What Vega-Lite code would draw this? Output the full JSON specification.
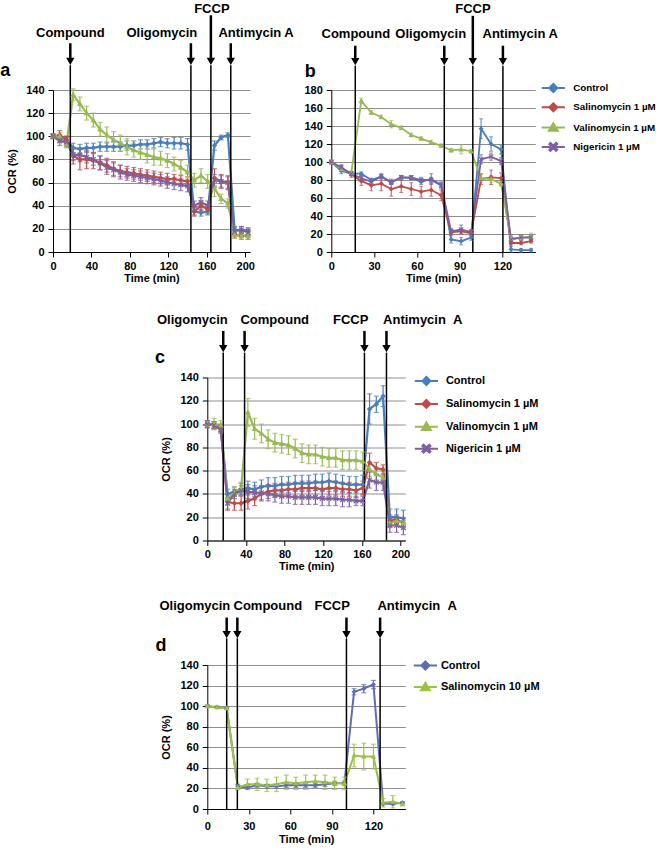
{
"$schema":"https://vega.github.io/schema/vega-lite/v6.json",
"background":"white",
"padding":{"left":0,"top":2,"right":0,"bottom":5},
"datasets":{
"annA":[{"event":"Compound","t":18,"lt":18,"ly":189,"top":180.4},{"event":"Oligomycin","t":143.5,"lt":113.3,"ly":189,"top":180.4},{"event":"FCCP","t":164.3,"lt":165.3,"ly":210.4,"top":204.6},{"event":"Antimycin A","t":185,"lt":211.3,"ly":189,"top":180.4}],
"annB":[{"event":"Compound","t":16.8,"lt":17.2,"ly":242.5,"top":229.2},{"event":"Oligomycin","t":79.2,"lt":69.7,"ly":242.5,"top":229.2},{"event":"FCCP","t":99.2,"lt":99.3,"ly":269.8,"top":262.4},{"event":"Antimycin A","t":120.3,"lt":132.4,"ly":242.5,"top":229.2}],
"annC":[{"event":"Oligomycin","t":16.5,"lt":-15.5,"ly":189.7,"top":180},{"event":"Compound","t":38.6,"lt":69.8,"ly":189.7,"top":180},{"event":"FCCP","t":162.7,"lt":148.4,"ly":189.7,"top":180},{"event":"Antimycin\u00a0\u00a0A","t":185.5,"lt":223.1,"ly":189.7,"top":180}],
"annD":[{"event":"Oligomycin","t":14,"lt":-9,"ly":197,"top":186.1},{"event":"Compound","t":21.7,"lt":43.7,"ly":197,"top":186.1},{"event":"FCCP","t":100.5,"lt":90.2,"ly":197,"top":186.1},{"event":"Antimycin\u00a0\u00a0A","t":124.8,"lt":151.6,"ly":197,"top":186.1}],
"a":[
{"t":0,"s":"Control","v":100,"e":2},{"t":7,"s":"Control","v":98,"e":3},{"t":14,"s":"Control","v":97,"e":3},{"t":21,"s":"Control","v":90,"e":4},{"t":28,"s":"Control","v":89,"e":4},{"t":35,"s":"Control","v":90,"e":4},{"t":42,"s":"Control","v":90,"e":4},{"t":49,"s":"Control","v":91,"e":4},{"t":56,"s":"Control","v":91,"e":4},{"t":63,"s":"Control","v":91,"e":4},{"t":70,"s":"Control","v":91,"e":4},{"t":77,"s":"Control","v":92,"e":4},{"t":84,"s":"Control","v":92,"e":4},{"t":91,"s":"Control","v":93,"e":4},{"t":98,"s":"Control","v":93,"e":4},{"t":105,"s":"Control","v":94,"e":4},{"t":112,"s":"Control","v":95,"e":4},{"t":119,"s":"Control","v":94,"e":4},{"t":126,"s":"Control","v":94,"e":5},{"t":133,"s":"Control","v":94,"e":5},{"t":140,"s":"Control","v":93,"e":5},{"t":147,"s":"Control","v":35,"e":3},{"t":154,"s":"Control","v":34,"e":3},{"t":161,"s":"Control","v":35,"e":3},{"t":168,"s":"Control","v":92,"e":4},{"t":175,"s":"Control","v":99,"e":2},{"t":182,"s":"Control","v":101,"e":2},{"t":189,"s":"Control","v":19,"e":3},{"t":196,"s":"Control","v":19,"e":3},{"t":203,"s":"Control","v":18,"e":3},
{"t":0,"s":"Salinomycin 1 µM","v":100,"e":2},{"t":7,"s":"Salinomycin 1 µM","v":101,"e":4},{"t":14,"s":"Salinomycin 1 µM","v":97,"e":3},{"t":21,"s":"Salinomycin 1 µM","v":83,"e":7},{"t":28,"s":"Salinomycin 1 µM","v":80,"e":9},{"t":35,"s":"Salinomycin 1 µM","v":80,"e":8},{"t":42,"s":"Salinomycin 1 µM","v":79,"e":7},{"t":49,"s":"Salinomycin 1 µM","v":77,"e":6},{"t":56,"s":"Salinomycin 1 µM","v":75,"e":6},{"t":63,"s":"Salinomycin 1 µM","v":72,"e":6},{"t":70,"s":"Salinomycin 1 µM","v":70,"e":5},{"t":77,"s":"Salinomycin 1 µM","v":69,"e":5},{"t":84,"s":"Salinomycin 1 µM","v":68,"e":5},{"t":91,"s":"Salinomycin 1 µM","v":67,"e":5},{"t":98,"s":"Salinomycin 1 µM","v":66,"e":5},{"t":105,"s":"Salinomycin 1 µM","v":65,"e":5},{"t":112,"s":"Salinomycin 1 µM","v":64,"e":5},{"t":119,"s":"Salinomycin 1 µM","v":63,"e":5},{"t":126,"s":"Salinomycin 1 µM","v":63,"e":4},{"t":133,"s":"Salinomycin 1 µM","v":62,"e":4},{"t":140,"s":"Salinomycin 1 µM","v":61,"e":4},{"t":147,"s":"Salinomycin 1 µM","v":35,"e":4},{"t":154,"s":"Salinomycin 1 µM","v":40,"e":4},{"t":161,"s":"Salinomycin 1 µM","v":37,"e":4},{"t":168,"s":"Salinomycin 1 µM","v":64,"e":8},{"t":175,"s":"Salinomycin 1 µM","v":61,"e":6},{"t":182,"s":"Salinomycin 1 µM","v":60,"e":6},{"t":189,"s":"Salinomycin 1 µM","v":15,"e":3},{"t":196,"s":"Salinomycin 1 µM","v":14,"e":3},{"t":203,"s":"Salinomycin 1 µM","v":14,"e":3},
{"t":0,"s":"Valinomycin 1 µM","v":100,"e":2},{"t":7,"s":"Valinomycin 1 µM","v":100,"e":3},{"t":14,"s":"Valinomycin 1 µM","v":93,"e":3},{"t":21,"s":"Valinomycin 1 µM","v":136,"e":5},{"t":28,"s":"Valinomycin 1 µM","v":128,"e":6},{"t":35,"s":"Valinomycin 1 µM","v":120,"e":6},{"t":42,"s":"Valinomycin 1 µM","v":114,"e":6},{"t":49,"s":"Valinomycin 1 µM","v":106,"e":6},{"t":56,"s":"Valinomycin 1 µM","v":101,"e":7},{"t":63,"s":"Valinomycin 1 µM","v":97,"e":7},{"t":70,"s":"Valinomycin 1 µM","v":94,"e":7},{"t":77,"s":"Valinomycin 1 µM","v":91,"e":7},{"t":84,"s":"Valinomycin 1 µM","v":88,"e":6},{"t":91,"s":"Valinomycin 1 µM","v":86,"e":6},{"t":98,"s":"Valinomycin 1 µM","v":84,"e":7},{"t":105,"s":"Valinomycin 1 µM","v":82,"e":7},{"t":112,"s":"Valinomycin 1 µM","v":81,"e":6},{"t":119,"s":"Valinomycin 1 µM","v":79,"e":6},{"t":126,"s":"Valinomycin 1 µM","v":76,"e":6},{"t":133,"s":"Valinomycin 1 µM","v":73,"e":6},{"t":140,"s":"Valinomycin 1 µM","v":69,"e":6},{"t":147,"s":"Valinomycin 1 µM","v":62,"e":6},{"t":154,"s":"Valinomycin 1 µM","v":66,"e":6},{"t":161,"s":"Valinomycin 1 µM","v":61,"e":6},{"t":168,"s":"Valinomycin 1 µM","v":55,"e":7},{"t":175,"s":"Valinomycin 1 µM","v":46,"e":4},{"t":182,"s":"Valinomycin 1 µM","v":42,"e":4},{"t":189,"s":"Valinomycin 1 µM","v":15,"e":3},{"t":196,"s":"Valinomycin 1 µM","v":14,"e":3},{"t":203,"s":"Valinomycin 1 µM","v":14,"e":3},
{"t":0,"s":"Nigericin 1 µM","v":100,"e":2},{"t":7,"s":"Nigericin 1 µM","v":96,"e":4},{"t":14,"s":"Nigericin 1 µM","v":95,"e":4},{"t":21,"s":"Nigericin 1 µM","v":84,"e":5},{"t":28,"s":"Nigericin 1 µM","v":84,"e":6},{"t":35,"s":"Nigericin 1 µM","v":82,"e":5},{"t":42,"s":"Nigericin 1 µM","v":80,"e":5},{"t":49,"s":"Nigericin 1 µM","v":77,"e":6},{"t":56,"s":"Nigericin 1 µM","v":73,"e":6},{"t":63,"s":"Nigericin 1 µM","v":71,"e":6},{"t":70,"s":"Nigericin 1 µM","v":69,"e":6},{"t":77,"s":"Nigericin 1 µM","v":67,"e":5},{"t":84,"s":"Nigericin 1 µM","v":66,"e":5},{"t":91,"s":"Nigericin 1 µM","v":65,"e":5},{"t":98,"s":"Nigericin 1 µM","v":64,"e":5},{"t":105,"s":"Nigericin 1 µM","v":63,"e":5},{"t":112,"s":"Nigericin 1 µM","v":62,"e":5},{"t":119,"s":"Nigericin 1 µM","v":60,"e":5},{"t":126,"s":"Nigericin 1 µM","v":59,"e":5},{"t":133,"s":"Nigericin 1 µM","v":58,"e":5},{"t":140,"s":"Nigericin 1 µM","v":57,"e":5},{"t":147,"s":"Nigericin 1 µM","v":40,"e":4},{"t":154,"s":"Nigericin 1 µM","v":43,"e":4},{"t":161,"s":"Nigericin 1 µM","v":40,"e":4},{"t":168,"s":"Nigericin 1 µM","v":62,"e":5},{"t":175,"s":"Nigericin 1 µM","v":61,"e":5},{"t":182,"s":"Nigericin 1 µM","v":60,"e":5},{"t":189,"s":"Nigericin 1 µM","v":18,"e":3},{"t":196,"s":"Nigericin 1 µM","v":19,"e":3},{"t":203,"s":"Nigericin 1 µM","v":17,"e":3}
],
"b":[
{"t":0,"s":"Control","v":100,"e":2},{"t":7,"s":"Control","v":90,"e":3},{"t":14,"s":"Control","v":87,"e":2},{"t":21,"s":"Control","v":87,"e":2},{"t":28,"s":"Control","v":80,"e":2},{"t":35,"s":"Control","v":84,"e":2},{"t":42,"s":"Control","v":77,"e":2},{"t":49,"s":"Control","v":83,"e":2},{"t":56,"s":"Control","v":82,"e":2},{"t":63,"s":"Control","v":78,"e":3},{"t":70,"s":"Control","v":81,"e":6},{"t":77,"s":"Control","v":75,"e":3},{"t":84,"s":"Control","v":14,"e":4},{"t":91,"s":"Control","v":12,"e":4},{"t":98,"s":"Control","v":16,"e":3},{"t":105,"s":"Control","v":137,"e":11},{"t":112,"s":"Control","v":120,"e":8},{"t":119,"s":"Control","v":114,"e":5},{"t":126,"s":"Control","v":3,"e":3},{"t":133,"s":"Control","v":2,"e":2},{"t":140,"s":"Control","v":2,"e":2},
{"t":0,"s":"Salinomycin 1 µM","v":100,"e":2},{"t":7,"s":"Salinomycin 1 µM","v":93,"e":3},{"t":14,"s":"Salinomycin 1 µM","v":86,"e":3},{"t":21,"s":"Salinomycin 1 µM","v":79,"e":5},{"t":28,"s":"Salinomycin 1 µM","v":74,"e":6},{"t":35,"s":"Salinomycin 1 µM","v":76,"e":8},{"t":42,"s":"Salinomycin 1 µM","v":70,"e":8},{"t":49,"s":"Salinomycin 1 µM","v":73,"e":7},{"t":56,"s":"Salinomycin 1 µM","v":70,"e":7},{"t":63,"s":"Salinomycin 1 µM","v":67,"e":6},{"t":70,"s":"Salinomycin 1 µM","v":69,"e":7},{"t":77,"s":"Salinomycin 1 µM","v":63,"e":6},{"t":84,"s":"Salinomycin 1 µM","v":22,"e":3},{"t":91,"s":"Salinomycin 1 µM","v":23,"e":3},{"t":98,"s":"Salinomycin 1 µM","v":21,"e":3},{"t":105,"s":"Salinomycin 1 µM","v":81,"e":6},{"t":112,"s":"Salinomycin 1 µM","v":83,"e":8},{"t":119,"s":"Salinomycin 1 µM","v":82,"e":6},{"t":126,"s":"Salinomycin 1 µM","v":10,"e":2},{"t":133,"s":"Salinomycin 1 µM","v":10,"e":2},{"t":140,"s":"Salinomycin 1 µM","v":12,"e":2},
{"t":0,"s":"Valinomycin 1 µM","v":100,"e":2},{"t":7,"s":"Valinomycin 1 µM","v":92,"e":2},{"t":14,"s":"Valinomycin 1 µM","v":88,"e":2},{"t":21,"s":"Valinomycin 1 µM","v":168,"e":3},{"t":28,"s":"Valinomycin 1 µM","v":155,"e":2},{"t":35,"s":"Valinomycin 1 µM","v":150,"e":2},{"t":42,"s":"Valinomycin 1 µM","v":142,"e":4},{"t":49,"s":"Valinomycin 1 µM","v":138,"e":2},{"t":56,"s":"Valinomycin 1 µM","v":130,"e":2},{"t":63,"s":"Valinomycin 1 µM","v":126,"e":2},{"t":70,"s":"Valinomycin 1 µM","v":122,"e":2},{"t":77,"s":"Valinomycin 1 µM","v":118,"e":2},{"t":84,"s":"Valinomycin 1 µM","v":113,"e":2},{"t":91,"s":"Valinomycin 1 µM","v":114,"e":5},{"t":98,"s":"Valinomycin 1 µM","v":112,"e":2},{"t":105,"s":"Valinomycin 1 µM","v":82,"e":4},{"t":112,"s":"Valinomycin 1 µM","v":81,"e":4},{"t":119,"s":"Valinomycin 1 µM","v":76,"e":3},{"t":126,"s":"Valinomycin 1 µM","v":15,"e":3},{"t":133,"s":"Valinomycin 1 µM","v":16,"e":3},{"t":140,"s":"Valinomycin 1 µM","v":17,"e":4},
{"t":0,"s":"Nigericin 1 µM","v":100,"e":2},{"t":7,"s":"Nigericin 1 µM","v":94,"e":3},{"t":14,"s":"Nigericin 1 µM","v":87,"e":2},{"t":21,"s":"Nigericin 1 µM","v":82,"e":3},{"t":28,"s":"Nigericin 1 µM","v":78,"e":3},{"t":35,"s":"Nigericin 1 µM","v":84,"e":3},{"t":42,"s":"Nigericin 1 µM","v":78,"e":3},{"t":49,"s":"Nigericin 1 µM","v":83,"e":2},{"t":56,"s":"Nigericin 1 µM","v":83,"e":2},{"t":63,"s":"Nigericin 1 µM","v":80,"e":3},{"t":70,"s":"Nigericin 1 µM","v":80,"e":3},{"t":77,"s":"Nigericin 1 µM","v":74,"e":3},{"t":84,"s":"Nigericin 1 µM","v":23,"e":3},{"t":91,"s":"Nigericin 1 µM","v":25,"e":5},{"t":98,"s":"Nigericin 1 µM","v":22,"e":3},{"t":105,"s":"Nigericin 1 µM","v":103,"e":5},{"t":112,"s":"Nigericin 1 µM","v":106,"e":4},{"t":119,"s":"Nigericin 1 µM","v":101,"e":4},{"t":126,"s":"Nigericin 1 µM","v":14,"e":3},{"t":133,"s":"Nigericin 1 µM","v":16,"e":3},{"t":140,"s":"Nigericin 1 µM","v":16,"e":3}
],
"c":[
{"t":0,"s":"Control","v":100,"e":3},{"t":7,"s":"Control","v":99,"e":3},{"t":14,"s":"Control","v":97,"e":3},{"t":21,"s":"Control","v":40,"e":4},{"t":28,"s":"Control","v":42,"e":4},{"t":35,"s":"Control","v":44,"e":5},{"t":42,"s":"Control","v":45,"e":6},{"t":49,"s":"Control","v":44,"e":6},{"t":56,"s":"Control","v":46,"e":6},{"t":63,"s":"Control","v":47,"e":7},{"t":70,"s":"Control","v":47,"e":7},{"t":77,"s":"Control","v":48,"e":7},{"t":84,"s":"Control","v":48,"e":7},{"t":91,"s":"Control","v":49,"e":7},{"t":98,"s":"Control","v":49,"e":7},{"t":105,"s":"Control","v":49,"e":7},{"t":112,"s":"Control","v":50,"e":7},{"t":119,"s":"Control","v":50,"e":7},{"t":126,"s":"Control","v":51,"e":7},{"t":133,"s":"Control","v":50,"e":7},{"t":140,"s":"Control","v":49,"e":7},{"t":147,"s":"Control","v":48,"e":7},{"t":154,"s":"Control","v":48,"e":7},{"t":161,"s":"Control","v":48,"e":8},{"t":168,"s":"Control","v":113,"e":13},{"t":175,"s":"Control","v":117,"e":7},{"t":182,"s":"Control","v":124,"e":9},{"t":189,"s":"Control","v":20,"e":7},{"t":196,"s":"Control","v":20,"e":7},{"t":203,"s":"Control","v":19,"e":7},
{"t":0,"s":"Salinomycin 1 µM","v":100,"e":3},{"t":7,"s":"Salinomycin 1 µM","v":99,"e":3},{"t":14,"s":"Salinomycin 1 µM","v":96,"e":3},{"t":21,"s":"Salinomycin 1 µM","v":33,"e":7},{"t":28,"s":"Salinomycin 1 µM","v":32,"e":6},{"t":35,"s":"Salinomycin 1 µM","v":32,"e":6},{"t":42,"s":"Salinomycin 1 µM","v":34,"e":7},{"t":49,"s":"Salinomycin 1 µM","v":36,"e":6},{"t":56,"s":"Salinomycin 1 µM","v":40,"e":6},{"t":63,"s":"Salinomycin 1 µM","v":42,"e":6},{"t":70,"s":"Salinomycin 1 µM","v":43,"e":6},{"t":77,"s":"Salinomycin 1 µM","v":43,"e":6},{"t":84,"s":"Salinomycin 1 µM","v":44,"e":6},{"t":91,"s":"Salinomycin 1 µM","v":44,"e":6},{"t":98,"s":"Salinomycin 1 µM","v":45,"e":6},{"t":105,"s":"Salinomycin 1 µM","v":45,"e":6},{"t":112,"s":"Salinomycin 1 µM","v":45,"e":6},{"t":119,"s":"Salinomycin 1 µM","v":44,"e":6},{"t":126,"s":"Salinomycin 1 µM","v":45,"e":6},{"t":133,"s":"Salinomycin 1 µM","v":45,"e":6},{"t":140,"s":"Salinomycin 1 µM","v":44,"e":6},{"t":147,"s":"Salinomycin 1 µM","v":44,"e":6},{"t":154,"s":"Salinomycin 1 µM","v":43,"e":6},{"t":161,"s":"Salinomycin 1 µM","v":45,"e":6},{"t":168,"s":"Salinomycin 1 µM","v":67,"e":8},{"t":175,"s":"Salinomycin 1 µM","v":62,"e":5},{"t":182,"s":"Salinomycin 1 µM","v":61,"e":4},{"t":189,"s":"Salinomycin 1 µM","v":17,"e":5},{"t":196,"s":"Salinomycin 1 µM","v":18,"e":4},{"t":203,"s":"Salinomycin 1 µM","v":15,"e":4},
{"t":0,"s":"Valinomycin 1 µM","v":100,"e":3},{"t":7,"s":"Valinomycin 1 µM","v":100,"e":5},{"t":14,"s":"Valinomycin 1 µM","v":99,"e":4},{"t":21,"s":"Valinomycin 1 µM","v":36,"e":5},{"t":28,"s":"Valinomycin 1 µM","v":41,"e":5},{"t":35,"s":"Valinomycin 1 µM","v":45,"e":5},{"t":42,"s":"Valinomycin 1 µM","v":110,"e":12},{"t":49,"s":"Valinomycin 1 µM","v":96,"e":9},{"t":56,"s":"Valinomycin 1 µM","v":92,"e":8},{"t":63,"s":"Valinomycin 1 µM","v":87,"e":8},{"t":70,"s":"Valinomycin 1 µM","v":84,"e":8},{"t":77,"s":"Valinomycin 1 µM","v":83,"e":8},{"t":84,"s":"Valinomycin 1 µM","v":82,"e":8},{"t":91,"s":"Valinomycin 1 µM","v":79,"e":8},{"t":98,"s":"Valinomycin 1 µM","v":75,"e":8},{"t":105,"s":"Valinomycin 1 µM","v":74,"e":8},{"t":112,"s":"Valinomycin 1 µM","v":74,"e":8},{"t":119,"s":"Valinomycin 1 µM","v":72,"e":8},{"t":126,"s":"Valinomycin 1 µM","v":71,"e":8},{"t":133,"s":"Valinomycin 1 µM","v":71,"e":8},{"t":140,"s":"Valinomycin 1 µM","v":69,"e":8},{"t":147,"s":"Valinomycin 1 µM","v":69,"e":8},{"t":154,"s":"Valinomycin 1 µM","v":69,"e":8},{"t":161,"s":"Valinomycin 1 µM","v":68,"e":8},{"t":168,"s":"Valinomycin 1 µM","v":61,"e":6},{"t":175,"s":"Valinomycin 1 µM","v":57,"e":5},{"t":182,"s":"Valinomycin 1 µM","v":54,"e":5},{"t":189,"s":"Valinomycin 1 µM","v":15,"e":4},{"t":196,"s":"Valinomycin 1 µM","v":17,"e":4},{"t":203,"s":"Valinomycin 1 µM","v":15,"e":4},
{"t":0,"s":"Nigericin 1 µM","v":100,"e":3},{"t":7,"s":"Nigericin 1 µM","v":99,"e":3},{"t":14,"s":"Nigericin 1 µM","v":95,"e":3},{"t":21,"s":"Nigericin 1 µM","v":32,"e":5},{"t":28,"s":"Nigericin 1 µM","v":40,"e":4},{"t":35,"s":"Nigericin 1 µM","v":43,"e":4},{"t":42,"s":"Nigericin 1 µM","v":42,"e":6},{"t":49,"s":"Nigericin 1 µM","v":41,"e":6},{"t":56,"s":"Nigericin 1 µM","v":41,"e":6},{"t":63,"s":"Nigericin 1 µM","v":40,"e":6},{"t":70,"s":"Nigericin 1 µM","v":39,"e":6},{"t":77,"s":"Nigericin 1 µM","v":38,"e":6},{"t":84,"s":"Nigericin 1 µM","v":38,"e":6},{"t":91,"s":"Nigericin 1 µM","v":37,"e":6},{"t":98,"s":"Nigericin 1 µM","v":37,"e":6},{"t":105,"s":"Nigericin 1 µM","v":37,"e":6},{"t":112,"s":"Nigericin 1 µM","v":37,"e":6},{"t":119,"s":"Nigericin 1 µM","v":36,"e":6},{"t":126,"s":"Nigericin 1 µM","v":36,"e":6},{"t":133,"s":"Nigericin 1 µM","v":36,"e":6},{"t":140,"s":"Nigericin 1 µM","v":35,"e":6},{"t":147,"s":"Nigericin 1 µM","v":35,"e":6},{"t":154,"s":"Nigericin 1 µM","v":34,"e":4},{"t":161,"s":"Nigericin 1 µM","v":34,"e":4},{"t":168,"s":"Nigericin 1 µM","v":52,"e":7},{"t":175,"s":"Nigericin 1 µM","v":50,"e":7},{"t":182,"s":"Nigericin 1 µM","v":50,"e":7},{"t":189,"s":"Nigericin 1 µM","v":13,"e":6},{"t":196,"s":"Nigericin 1 µM","v":13,"e":6},{"t":203,"s":"Nigericin 1 µM","v":11,"e":6}
],
"d":[
{"t":0,"s":"Control","v":100,"e":1},{"t":7,"s":"Control","v":99,"e":1},{"t":14,"s":"Control","v":98,"e":1},{"t":22,"s":"Control","v":22,"e":2},{"t":29,"s":"Control","v":21,"e":2},{"t":36,"s":"Control","v":23,"e":2},{"t":43,"s":"Control","v":22,"e":2},{"t":50,"s":"Control","v":22,"e":2},{"t":57,"s":"Control","v":23,"e":2},{"t":64,"s":"Control","v":23,"e":2},{"t":71,"s":"Control","v":23,"e":2},{"t":78,"s":"Control","v":23,"e":2},{"t":85,"s":"Control","v":24,"e":2},{"t":92,"s":"Control","v":25,"e":2},{"t":99,"s":"Control","v":25,"e":2},{"t":106,"s":"Control","v":114,"e":3},{"t":113,"s":"Control","v":117,"e":4},{"t":120,"s":"Control","v":121,"e":4},{"t":127,"s":"Control","v":5,"e":1},{"t":134,"s":"Control","v":5,"e":1},{"t":141,"s":"Control","v":6,"e":1},
{"t":0,"s":"Salinomycin 10 µM","v":100,"e":1},{"t":7,"s":"Salinomycin 10 µM","v":99,"e":1},{"t":14,"s":"Salinomycin 10 µM","v":98,"e":1},{"t":22,"s":"Salinomycin 10 µM","v":21,"e":2},{"t":29,"s":"Salinomycin 10 µM","v":24,"e":5},{"t":36,"s":"Salinomycin 10 µM","v":24,"e":6},{"t":43,"s":"Salinomycin 10 µM","v":23,"e":6},{"t":50,"s":"Salinomycin 10 µM","v":24,"e":7},{"t":57,"s":"Salinomycin 10 µM","v":26,"e":7},{"t":64,"s":"Salinomycin 10 µM","v":25,"e":6},{"t":71,"s":"Salinomycin 10 µM","v":26,"e":7},{"t":78,"s":"Salinomycin 10 µM","v":27,"e":6},{"t":85,"s":"Salinomycin 10 µM","v":26,"e":7},{"t":92,"s":"Salinomycin 10 µM","v":25,"e":6},{"t":99,"s":"Salinomycin 10 µM","v":25,"e":6},{"t":106,"s":"Salinomycin 10 µM","v":52,"e":11},{"t":113,"s":"Salinomycin 10 µM","v":51,"e":13},{"t":120,"s":"Salinomycin 10 µM","v":51,"e":12},{"t":127,"s":"Salinomycin 10 µM","v":6,"e":4},{"t":134,"s":"Salinomycin 10 µM","v":7,"e":6},{"t":141,"s":"Salinomycin 10 µM","v":5,"e":2}
]
},
"vconcat":[
{"hconcat":[
{"width":197,"height":162,
 "layer":[
  {"data":{"name":"a"},"mark":{"type":"line","strokeWidth":2.2},"encoding":{"x":{"field":"t","type":"quantitative","scale":{"domain":[0,205],"nice":false,"zero":false},"axis":{"values":[0,40,80,120,160,200],"title":"Time (min)"}},"y":{"field":"v","type":"quantitative","scale":{"domain":[0,140],"nice":false},"axis":{"values":[0,20,40,60,80,100,120,140],"title":"OCR (%)"}},"color":{"field":"s","type":"nominal","scale":{"domain":["Control","Salinomycin 1 µM","Valinomycin 1 µM","Nigericin 1 µM"],"range":["#4A7EBB","#BE4B48","#98B954","#7D60A0"]},"legend":null}}},
  {"data":{"name":"annA"},"mark":{"type":"rule","color":"black","strokeWidth":1.5},"encoding":{"x":{"field":"t","type":"quantitative","axis":{"values":[0,40,80,120,160,200],"title":"Time (min)"}},"y":{"datum":0,"type":"quantitative","axis":{"values":[0,20,40,60,80,100,120,140],"title":"OCR (%)"}},"y2":{"datum":161.4}}},
  {"data":{"name":"annA"},"mark":{"type":"rule","color":"black","strokeWidth":2.5},"encoding":{"x":{"field":"t","type":"quantitative","axis":{"values":[0,40,80,120,160,200],"title":"Time (min)"}},"y":{"field":"top","type":"quantitative","axis":{"values":[0,20,40,60,80,100,120,140],"title":"OCR (%)"}},"y2":{"datum":167.7}}},
  {"data":{"name":"annA"},"mark":{"type":"point","shape":"triangle-down","filled":true,"color":"black","opacity":1,"size":70},"encoding":{"x":{"field":"t","type":"quantitative","axis":{"values":[0,40,80,120,160,200],"title":"Time (min)"}},"y":{"datum":164.8,"type":"quantitative","axis":{"values":[0,20,40,60,80,100,120,140],"title":"OCR (%)"}}}},
  {"data":{"name":"annA"},"mark":{"type":"text","font":"Liberation Sans","fontSize":13,"fontWeight":"bold","color":"black","align":"center","baseline":"middle"},"encoding":{"x":{"field":"lt","type":"quantitative","axis":{"values":[0,40,80,120,160,200],"title":"Time (min)"}},"y":{"field":"ly","type":"quantitative","axis":{"values":[0,20,40,60,80,100,120,140],"title":"OCR (%)"}},"text":{"field":"event"}}},
  {"data":{"values":[{"panel":"a"}]},"mark":{"type":"text","font":"Liberation Sans","fontSize":18,"fontWeight":"bold","color":"black","align":"center","baseline":"middle"},"encoding":{"x":{"datum":-49.6,"type":"quantitative","axis":{"values":[0,40,80,120,160,200],"title":"Time (min)"}},"y":{"datum":156.2,"type":"quantitative","axis":{"values":[0,20,40,60,80,100,120,140],"title":"OCR (%)"}},"text":{"field":"panel"}}},
  {"data":{"name":"a"},"mark":{"type":"errorbar","ticks":{"size":5},"thickness":1.2},"encoding":{"x":{"field":"t","type":"quantitative","axis":{"values":[0,40,80,120,160,200],"title":"Time (min)"}},"y":{"field":"v","type":"quantitative","axis":{"values":[0,20,40,60,80,100,120,140],"title":"OCR (%)"}},"yError":{"field":"e"},"color":{"field":"s","type":"nominal","legend":null}}},
  {"data":{"name":"a"},"mark":{"type":"point","filled":true,"opacity":1,"size":30},"encoding":{"x":{"field":"t","type":"quantitative","axis":{"values":[0,40,80,120,160,200],"title":"Time (min)"}},"y":{"field":"v","type":"quantitative","axis":{"values":[0,20,40,60,80,100,120,140],"title":"OCR (%)"}},"color":{"field":"s","type":"nominal","legend":null},"shape":{"field":"s","type":"nominal","scale":{"domain":["Control","Salinomycin 1 µM","Valinomycin 1 µM","Nigericin 1 µM"],"range":["M-2.9,0L2.9,0M0,-1L1,0L0,1L-1,0Z","M-2.9,0L2.9,0M0,-1L1,0L0,1L-1,0Z","M-2.9,0L2.9,0M0,-1.1L1.1,0.8L-1.1,0.8Z","M-2.9,0L2.9,0M-1,-0.7L-0.7,-1L0,-0.3L0.7,-1L1,-0.7L0.3,0L1,0.7L0.7,1L0,0.3L-0.7,1L-1,0.7L-0.3,0Z"]},"legend":null}}}
 ]},
{"width":204,"height":162,
 "layer":[
  {"data":{"name":"b"},"mark":{"type":"line","strokeWidth":1.8},"encoding":{"x":{"field":"t","type":"quantitative","scale":{"domain":[0,143],"nice":false,"zero":false},"axis":{"values":[0,30,60,90,120],"title":"Time (min)"}},"y":{"field":"v","type":"quantitative","scale":{"domain":[0,180],"nice":false},"axis":{"values":[0,20,40,60,80,100,120,140,160,180],"title":null}},"color":{"field":"s","type":"nominal","scale":{"domain":["Control","Salinomycin 1 µM","Valinomycin 1 µM","Nigericin 1 µM"],"range":["#4A7EBB","#BE4B48","#98B954","#7D60A0"]}}}},
  {"data":{"name":"annB"},"mark":{"type":"rule","color":"black","strokeWidth":1.5},"encoding":{"x":{"field":"t","type":"quantitative","axis":{"values":[0,30,60,90,120],"title":"Time (min)"}},"y":{"datum":0,"type":"quantitative","axis":{"values":[0,20,40,60,80,100,120,140,160,180],"title":null}},"y2":{"datum":207}}},
  {"data":{"name":"annB"},"mark":{"type":"rule","color":"black","strokeWidth":2.5},"encoding":{"x":{"field":"t","type":"quantitative","axis":{"values":[0,30,60,90,120],"title":"Time (min)"}},"y":{"field":"top","type":"quantitative","axis":{"values":[0,20,40,60,80,100,120,140,160,180],"title":null}},"y2":{"datum":214.7}}},
  {"data":{"name":"annB"},"mark":{"type":"point","shape":"triangle-down","filled":true,"color":"black","opacity":1,"size":70},"encoding":{"x":{"field":"t","type":"quantitative","axis":{"values":[0,30,60,90,120],"title":"Time (min)"}},"y":{"datum":211.4,"type":"quantitative","axis":{"values":[0,20,40,60,80,100,120,140,160,180],"title":null}}}},
  {"data":{"name":"annB"},"mark":{"type":"text","font":"Liberation Sans","fontSize":13,"fontWeight":"bold","color":"black","align":"center","baseline":"middle"},"encoding":{"x":{"field":"lt","type":"quantitative","axis":{"values":[0,30,60,90,120],"title":"Time (min)"}},"y":{"field":"ly","type":"quantitative","axis":{"values":[0,20,40,60,80,100,120,140,160,180],"title":null}},"text":{"field":"event"}}},
  {"data":{"values":[{"panel":"b"}]},"mark":{"type":"text","font":"Liberation Sans","fontSize":18,"fontWeight":"bold","color":"black","align":"center","baseline":"middle"},"encoding":{"x":{"datum":-14.7,"type":"quantitative","axis":{"values":[0,30,60,90,120],"title":"Time (min)"}},"y":{"datum":199.6,"type":"quantitative","axis":{"values":[0,20,40,60,80,100,120,140,160,180],"title":null}},"text":{"field":"panel"}}},
  {"data":{"name":"b"},"mark":{"type":"errorbar","ticks":{"size":4},"thickness":1},"encoding":{"x":{"field":"t","type":"quantitative","axis":{"values":[0,30,60,90,120],"title":"Time (min)"}},"y":{"field":"v","type":"quantitative","axis":{"values":[0,20,40,60,80,100,120,140,160,180],"title":null}},"yError":{"field":"e"},"color":{"field":"s","type":"nominal"}}},
  {"data":{"name":"b"},"mark":{"type":"point","filled":true,"opacity":1,"size":25},"encoding":{"x":{"field":"t","type":"quantitative","axis":{"values":[0,30,60,90,120],"title":"Time (min)"}},"y":{"field":"v","type":"quantitative","axis":{"values":[0,20,40,60,80,100,120,140,160,180],"title":null}},"color":{"field":"s","type":"nominal","legend":{"title":null,"orient":"none","legendX":217,"legendY":-7,"padding":0,"symbolSize":64,"symbolStrokeWidth":2,"symbolOpacity":1,"labelFont":"Liberation Sans","labelFontWeight":"bold","labelFontSize":9.8,"labelColor":"black","labelOffset":15,"rowPadding":3.3,"encode":{"symbols":{"update":{"stroke":{"signal":"{'Control':'#4A7EBB','Salinomycin 1 µM':'#BE4B48','Valinomycin 1 µM':'#98B954','Nigericin 1 µM':'#7D60A0'}[datum.value]"}}}}}},"shape":{"field":"s","type":"nominal","scale":{"domain":["Control","Salinomycin 1 µM","Valinomycin 1 µM","Nigericin 1 µM"],"range":["M-2.9,0L2.9,0M0,-1L1,0L0,1L-1,0Z","M-2.9,0L2.9,0M0,-1L1,0L0,1L-1,0Z","M-2.9,0L2.9,0M0,-1.1L1.1,0.8L-1.1,0.8Z","M-2.9,0L2.9,0M-1,-0.7L-0.7,-1L0,-0.3L0.7,-1L1,-0.7L0.3,0L1,0.7L0.7,1L0,0.3L-0.7,1L-1,0.7L-0.3,0Z"]},"legend":{"title":null,"orient":"none","legendX":217,"legendY":-7,"padding":0,"symbolSize":64,"symbolStrokeWidth":2,"symbolOpacity":1,"labelFont":"Liberation Sans","labelFontWeight":"bold","labelFontSize":9.8,"labelColor":"black","labelOffset":15,"rowPadding":3.3}}}}
 ]}
],"spacing":81.3,"bounds":"flush","resolve":{"scale":{"x":"independent","y":"independent","color":"independent","shape":"independent"},"legend":{"color":"independent","shape":"independent"}}},
{"hconcat":[
{"width":72.7,"height":10,"data":{"values":[]},"mark":"point"},
{"width":198,"height":163,
 "layer":[
  {"data":{"name":"c"},"mark":{"type":"line","strokeWidth":2.2},"encoding":{"x":{"field":"t","type":"quantitative","scale":{"domain":[0,205],"nice":false,"zero":false},"axis":{"values":[0,40,80,120,160,200],"title":"Time (min)"}},"y":{"field":"v","type":"quantitative","scale":{"domain":[0,140],"nice":false},"axis":{"values":[0,20,40,60,80,100,120,140],"title":"OCR (%)"}},"color":{"field":"s","type":"nominal","scale":{"domain":["Control","Salinomycin 1 µM","Valinomycin 1 µM","Nigericin 1 µM"],"range":["#4A7EBB","#BE4B48","#98B954","#7D60A0"]}}}},
  {"data":{"name":"annC"},"mark":{"type":"rule","color":"black","strokeWidth":1.5},"encoding":{"x":{"field":"t","type":"quantitative","axis":{"values":[0,40,80,120,160,200],"title":"Time (min)"}},"y":{"datum":0,"type":"quantitative","axis":{"values":[0,20,40,60,80,100,120,140],"title":"OCR (%)"}},"y2":{"datum":161.4}}},
  {"data":{"name":"annC"},"mark":{"type":"rule","color":"black","strokeWidth":2.5},"encoding":{"x":{"field":"t","type":"quantitative","axis":{"values":[0,40,80,120,160,200],"title":"Time (min)"}},"y":{"field":"top","type":"quantitative","axis":{"values":[0,20,40,60,80,100,120,140],"title":"OCR (%)"}},"y2":{"datum":167.4}}},
  {"data":{"name":"annC"},"mark":{"type":"point","shape":"triangle-down","filled":true,"color":"black","opacity":1,"size":70},"encoding":{"x":{"field":"t","type":"quantitative","axis":{"values":[0,40,80,120,160,200],"title":"Time (min)"}},"y":{"datum":164.8,"type":"quantitative","axis":{"values":[0,20,40,60,80,100,120,140],"title":"OCR (%)"}}}},
  {"data":{"name":"annC"},"mark":{"type":"text","font":"Liberation Sans","fontSize":13,"fontWeight":"bold","color":"black","align":"center","baseline":"middle"},"encoding":{"x":{"field":"lt","type":"quantitative","axis":{"values":[0,40,80,120,160,200],"title":"Time (min)"}},"y":{"field":"ly","type":"quantitative","axis":{"values":[0,20,40,60,80,100,120,140],"title":"OCR (%)"}},"text":{"field":"event"}}},
  {"data":{"values":[{"panel":"c"}]},"mark":{"type":"text","font":"Liberation Sans","fontSize":18,"fontWeight":"bold","color":"black","align":"center","baseline":"middle"},"encoding":{"x":{"datum":-49.1,"type":"quantitative","axis":{"values":[0,40,80,120,160,200],"title":"Time (min)"}},"y":{"datum":156.4,"type":"quantitative","axis":{"values":[0,20,40,60,80,100,120,140],"title":"OCR (%)"}},"text":{"field":"panel"}}},
  {"data":{"name":"c"},"mark":{"type":"errorbar","ticks":{"size":5},"thickness":1.2},"encoding":{"x":{"field":"t","type":"quantitative","axis":{"values":[0,40,80,120,160,200],"title":"Time (min)"}},"y":{"field":"v","type":"quantitative","axis":{"values":[0,20,40,60,80,100,120,140],"title":"OCR (%)"}},"yError":{"field":"e"},"color":{"field":"s","type":"nominal"}}},
  {"data":{"name":"c"},"mark":{"type":"point","filled":true,"opacity":1,"size":30},"encoding":{"x":{"field":"t","type":"quantitative","axis":{"values":[0,40,80,120,160,200],"title":"Time (min)"}},"y":{"field":"v","type":"quantitative","axis":{"values":[0,20,40,60,80,100,120,140],"title":"OCR (%)"}},"color":{"field":"s","type":"nominal","legend":{"title":null,"orient":"none","legendX":213.6,"legendY":-2,"padding":0,"symbolSize":64,"symbolStrokeWidth":2,"symbolOpacity":1,"labelFont":"Liberation Sans","labelFontWeight":"bold","labelFontSize":11,"labelColor":"black","labelOffset":14,"rowPadding":5.9,"encode":{"symbols":{"update":{"stroke":{"signal":"{'Control':'#4A7EBB','Salinomycin 1 µM':'#BE4B48','Valinomycin 1 µM':'#98B954','Nigericin 1 µM':'#7D60A0'}[datum.value]"}}}}}},"shape":{"field":"s","type":"nominal","scale":{"domain":["Control","Salinomycin 1 µM","Valinomycin 1 µM","Nigericin 1 µM"],"range":["M-2.9,0L2.9,0M0,-1L1,0L0,1L-1,0Z","M-2.9,0L2.9,0M0,-1L1,0L0,1L-1,0Z","M-2.9,0L2.9,0M0,-1.1L1.1,0.8L-1.1,0.8Z","M-2.9,0L2.9,0M-1,-0.7L-0.7,-1L0,-0.3L0.7,-1L1,-0.7L0.3,0L1,0.7L0.7,1L0,0.3L-0.7,1L-1,0.7L-0.3,0Z"]},"legend":{"title":null,"orient":"none","legendX":213.6,"legendY":-2,"padding":0,"symbolSize":64,"symbolStrokeWidth":2,"symbolOpacity":1,"labelFont":"Liberation Sans","labelFontWeight":"bold","labelFontSize":11,"labelColor":"black","labelOffset":14,"rowPadding":5.9}}}}
 ]}
],"spacing":81.3,"bounds":"flush","resolve":{"scale":{"x":"independent","y":"independent","color":"independent","shape":"independent"},"legend":{"color":"independent","shape":"independent"}}},
{"hconcat":[
{"width":72.7,"height":10,"data":{"values":[]},"mark":"point"},
{"width":198,"height":144,
 "layer":[
  {"data":{"name":"d"},"mark":{"type":"line","strokeWidth":2},"encoding":{"x":{"field":"t","type":"quantitative","scale":{"domain":[0,143],"nice":false,"zero":false},"axis":{"values":[0,30,60,90,120],"title":"Time (min)","labelPadding":6,"titlePadding":2}},"y":{"field":"v","type":"quantitative","scale":{"domain":[0,140],"nice":false},"axis":{"values":[0,20,40,60,80,100,120,140],"title":"OCR (%)"}},"color":{"field":"s","type":"nominal","scale":{"domain":["Control","Salinomycin 10 µM"],"range":["#5F6DB3","#9DC143"]}}}},
  {"data":{"name":"annD"},"mark":{"type":"rule","color":"black","strokeWidth":1.5},"encoding":{"x":{"field":"t","type":"quantitative","axis":{"values":[0,30,60,90,120],"title":"Time (min)","labelPadding":6,"titlePadding":2}},"y":{"datum":0,"type":"quantitative","axis":{"values":[0,20,40,60,80,100,120,140],"title":"OCR (%)"}},"y2":{"datum":166}}},
  {"data":{"name":"annD"},"mark":{"type":"rule","color":"black","strokeWidth":2.5},"encoding":{"x":{"field":"t","type":"quantitative","axis":{"values":[0,30,60,90,120],"title":"Time (min)","labelPadding":6,"titlePadding":2}},"y":{"field":"top","type":"quantitative","axis":{"values":[0,20,40,60,80,100,120,140],"title":"OCR (%)"}},"y2":{"datum":172.6}}},
  {"data":{"name":"annD"},"mark":{"type":"point","shape":"triangle-down","filled":true,"color":"black","opacity":1,"size":70},"encoding":{"x":{"field":"t","type":"quantitative","axis":{"values":[0,30,60,90,120],"title":"Time (min)","labelPadding":6,"titlePadding":2}},"y":{"datum":169.6,"type":"quantitative","axis":{"values":[0,20,40,60,80,100,120,140],"title":"OCR (%)"}}}},
  {"data":{"name":"annD"},"mark":{"type":"text","font":"Liberation Sans","fontSize":13,"fontWeight":"bold","color":"black","align":"center","baseline":"middle"},"encoding":{"x":{"field":"lt","type":"quantitative","axis":{"values":[0,30,60,90,120],"title":"Time (min)","labelPadding":6,"titlePadding":2}},"y":{"field":"ly","type":"quantitative","axis":{"values":[0,20,40,60,80,100,120,140],"title":"OCR (%)"}},"text":{"field":"event"}}},
  {"data":{"values":[{"panel":"d"}]},"mark":{"type":"text","font":"Liberation Sans","fontSize":18,"fontWeight":"bold","color":"black","align":"center","baseline":"middle"},"encoding":{"x":{"datum":-33.4,"type":"quantitative","axis":{"values":[0,30,60,90,120],"title":"Time (min)","labelPadding":6,"titlePadding":2}},"y":{"datum":158.8,"type":"quantitative","axis":{"values":[0,20,40,60,80,100,120,140],"title":"OCR (%)"}},"text":{"field":"panel"}}},
  {"data":{"name":"d"},"mark":{"type":"errorbar","ticks":{"size":5},"thickness":1.2},"encoding":{"x":{"field":"t","type":"quantitative","axis":{"values":[0,30,60,90,120],"title":"Time (min)","labelPadding":6,"titlePadding":2}},"y":{"field":"v","type":"quantitative","axis":{"values":[0,20,40,60,80,100,120,140],"title":"OCR (%)"}},"yError":{"field":"e"},"color":{"field":"s","type":"nominal"}}},
  {"data":{"name":"d"},"mark":{"type":"point","filled":true,"opacity":1,"size":25},"encoding":{"x":{"field":"t","type":"quantitative","axis":{"values":[0,30,60,90,120],"title":"Time (min)","labelPadding":6,"titlePadding":2}},"y":{"field":"v","type":"quantitative","axis":{"values":[0,20,40,60,80,100,120,140],"title":"OCR (%)"}},"color":{"field":"s","type":"nominal","legend":{"title":null,"orient":"none","legendX":212.6,"legendY":-5,"padding":0,"symbolSize":64,"symbolStrokeWidth":2,"symbolOpacity":1,"labelFont":"Liberation Sans","labelFontWeight":"bold","labelFontSize":11,"labelColor":"black","labelOffset":10,"rowPadding":4.6,"encode":{"symbols":{"update":{"stroke":{"signal":"{'Control':'#5F6DB3','Salinomycin 10 µM':'#9DC143'}[datum.value]"}}}}}},"shape":{"field":"s","type":"nominal","scale":{"domain":["Control","Salinomycin 10 µM"],"range":["M-2.9,0L2.9,0M0,-1L1,0L0,1L-1,0Z","M-2.9,0L2.9,0M0,-1.1L1.1,0.8L-1.1,0.8Z"]},"legend":{"title":null,"orient":"none","legendX":212.6,"legendY":-5,"padding":0,"symbolSize":64,"symbolStrokeWidth":2,"symbolOpacity":1,"labelFont":"Liberation Sans","labelFontWeight":"bold","labelFontSize":11,"labelColor":"black","labelOffset":10,"rowPadding":4.6}}}}
 ]}
],"spacing":81.3,"bounds":"flush","resolve":{"scale":{"x":"independent","y":"independent","color":"independent","shape":"independent"},"legend":{"color":"independent","shape":"independent"}}}
],
"spacing":287.5,
"bounds":"flush",
"resolve":{"scale":{"x":"independent","y":"independent","color":"independent","shape":"independent"},"legend":{"color":"independent","shape":"independent"}},
"config":{
 "font":"Liberation Sans",
 "view":{"stroke":null},
 "axis":{"labelFont":"Liberation Sans","labelFontWeight":"bold","labelFontSize":11,"labelColor":"black","titleFont":"Liberation Sans","titleFontWeight":"bold","titleFontSize":11,"titleColor":"black","domainColor":"black","domainWidth":1,"tickColor":"black","tickSize":5,"gridColor":"#8f8f8f","gridWidth":1,"gridOpacity":1,"labelOverlap":false},
 "axisX":{"grid":false,"labelFlush":false,"labelPadding":3,"titlePadding":1},
 "axisY":{"grid":true,"labelPadding":4,"titlePadding":8}
}
}
